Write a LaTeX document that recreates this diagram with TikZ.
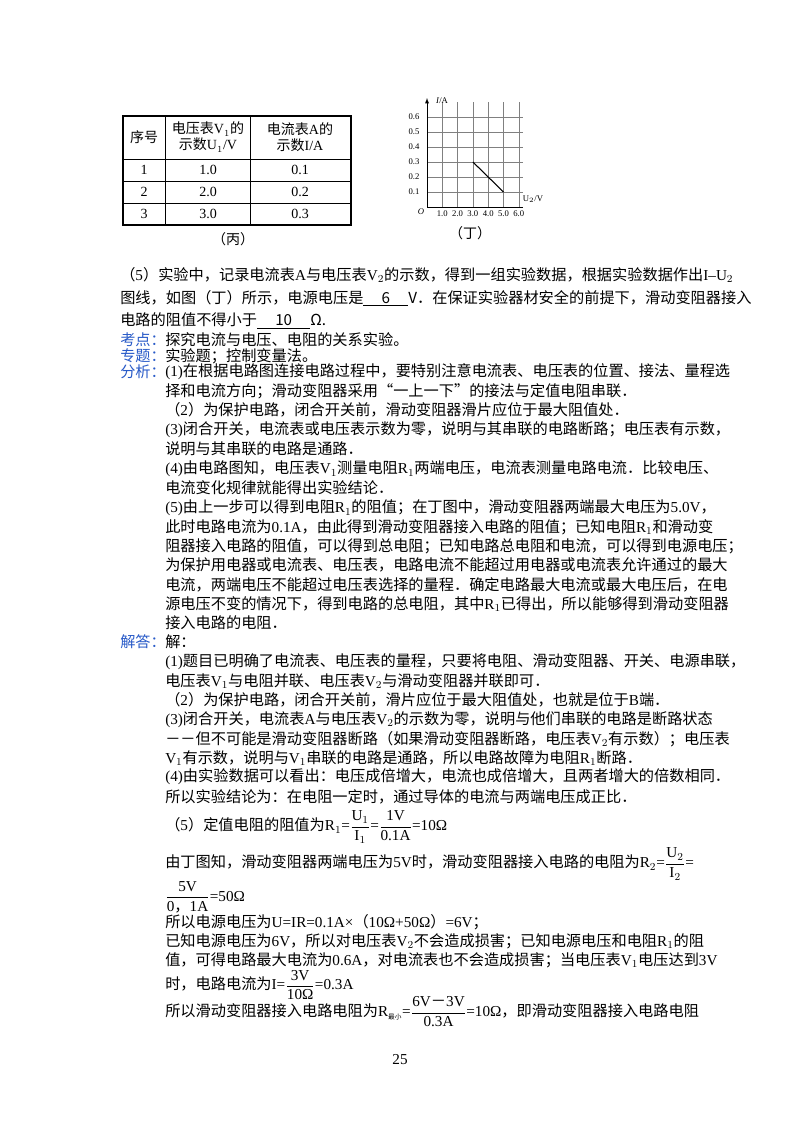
\documentclass[tikz,border=0pt]{standalone}
\usepackage{fontspec}
\setmainfont{Liberation Serif}
\newfontfamily\cjk{Noto Sans CJK SC}
\XeTeXinterchartokenstate=1
\newXeTeXintercharclass\cjkclass
\count255="4E00
\loop\XeTeXcharclass\count255=\cjkclass\advance\count255 1 \ifnum\count255<"A000 \repeat
\count255="3000
\loop\XeTeXcharclass\count255=\cjkclass\advance\count255 1 \ifnum\count255<"3040 \repeat
\count255="FF00
\loop\XeTeXcharclass\count255=\cjkclass\advance\count255 1 \ifnum\count255<"FFF0 \repeat
\XeTeXcharclass"201C=\cjkclass
\XeTeXcharclass"201D=\cjkclass
\XeTeXinterchartoks 0 \cjkclass={\cjk}
\XeTeXinterchartoks 4095 \cjkclass={\cjk}
\XeTeXinterchartoks \cjkclass 0={\rmfamily}
\definecolor{lab}{RGB}{40,90,200}
\newcommand{\fr}[2]{$\displaystyle\frac{\mbox{#1}}{\mbox{#2}}$}
\begin{document}
\begin{tikzpicture}[x=0.75pt,y=-0.75pt,
 ln/.style={anchor=west,inner sep=0pt,font=\fontsize{11.4}{13}\selectfont},
 lb/.style={ln,text=lab},
 sm/.style={inner sep=0pt,font=\fontsize{6.5}{7}\selectfont},
 tb/.style={inner sep=0pt,font=\fontsize{10.5}{12}\selectfont,align=center}]
\useasboundingbox[fill=white] (0,0) rectangle (800,1132);
% table
\draw[line width=0.9pt] (123,116) rectangle (351,225);
\foreach \y in {159,181,203} \draw (123,\y) -- (351,\y);
\draw (165,116) -- (165,225); \draw (250,116) -- (250,225);
\node[tb] (h1) at (144,137) {序号};
\node[tb] (h2) at (208,137) {电压表V$_1$的\\示数U$_1$/V};
\node[tb] (h3) at (300,137) {电流表A的\\示数I/A};
\foreach \r/\y/\a/\b in {1/170/1.0/0.1,2/192/2.0/0.2,3/214/3.0/0.3}{
 \node[tb] (r\r) at (144,\y) {\r}; \node[tb] (u\r) at (208,\y) {\a}; \node[tb] (i\r) at (300,\y) {\b};}
\node[tb] (cb) at (233,239) {（丙）};
% graph
\foreach \i in {1,...,6} \draw[gray] ({427+15.3*\i},102) -- ({427+15.3*\i},207);
\foreach \i in {1,...,6} \draw[gray] (427,{207-15*\i}) -- (523,{207-15*\i});
\draw[-latex] (427,207) -- (427,98);
\draw (427,207) -- (523,207);
\coordinate (pa) at ({427+15.3*3},162); \coordinate (pb) at ({427+15.3*5},192);
\draw[line width=0.8pt] (pa) -- (pb);
\node[sm] (ia) at (442,101) {\textit{I}/A};
\node[sm] (uv) at (533,199) {U$_2$/V};
\node[sm] (o) at (421,212) {\textit{O}};
\foreach \i in {1,...,6}{\node[sm] (ty\i) at (414,{207-15*\i}) {0.\i};
 \node[sm] (tx\i) at ({427+15.3*\i},214) {\i.0};}
\node[tb] (cd) at (470,233) {（丁）};
% text
\node[ln] (a1) at (120,275) {（5）实验中，记录电流表A与电压表V$_2$的示数，得到一组实验数据，根据实验数据作出I–U$_2$};
\node[ln] (a2) at (120,298) {图线，如图（丁）所示，电源电压是\underline{\hspace{1.2em}6\hspace{1.2em}}V．在保证实验器材安全的前提下，滑动变阻器接入};
\node[ln] (a3) at (120,321) {电路的阻值不得小于\underline{\hspace{1.2em}10\hspace{1.2em}}Ω.};
\node[lb] (k1) at (120,340) {考点：}; \node[ln] (k2) at (165,340) {探究电流与电压、电阻的关系实验。};
\node[lb] (z1) at (120,356) {专题：}; \node[ln] (z2) at (165,356) {实验题；控制变量法。};
\node[lb] (f0) at (120,372) {分析：};
\node[ln] (f1) at (165,372) {(1)在根据电路图连接电路过程中，要特别注意电流表、电压表的位置、接法、量程选};
\node[ln] (f2) at (165,391) {择和电流方向；滑动变阻器采用“一上一下”的接法与定值电阻串联．};
\node[ln] (f3) at (165,410) {（2）为保护电路，闭合开关前，滑动变阻器滑片应位于最大阻值处．};
\node[ln] (f4) at (165,430) {(3)闭合开关，电流表或电压表示数为零，说明与其串联的电路断路；电压表有示数，};
\node[ln] (f5) at (165,449) {说明与其串联的电路是通路．};
\node[ln] (f6) at (165,469) {(4)由电路图知，电压表V$_1$测量电阻R$_1$两端电压，电流表测量电路电流．比较电压、};
\node[ln] (f7) at (165,488) {电流变化规律就能得出实验结论．};
\node[ln] (f8) at (165,508) {(5)由上一步可以得到电阻R$_1$的阻值；在丁图中，滑动变阻器两端最大电压为5.0V，};
\node[ln] (f9) at (165,527) {此时电路电流为0.1A，由此得到滑动变阻器接入电路的阻值；已知电阻R$_1$和滑动变};
\node[ln] (f10) at (165,546) {阻器接入电路的阻值，可以得到总电阻；已知电路总电阻和电流，可以得到电源电压；};
\node[ln] (f11) at (165,565) {为保护用电器或电流表、电压表，电路电流不能超过用电器或电流表允许通过的最大};
\node[ln] (f12) at (165,585) {电流，两端电压不能超过电压表选择的量程．确定电路最大电流或最大电压后，在电};
\node[ln] (f13) at (165,604) {源电压不变的情况下，得到电路的总电阻，其中R$_1$已得出，所以能够得到滑动变阻器};
\node[ln] (f14) at (165,623) {接入电路的电阻．};
\node[lb] (j0) at (120,642) {解答：}; \node[ln] (j1) at (165,642) {解：};
\node[ln] (j2) at (165,662) {(1)题目已明确了电流表、电压表的量程，只要将电阻、滑动变阻器、开关、电源串联，};
\node[ln] (j3) at (165,681) {电压表V$_1$与电阻并联、电压表V$_2$与滑动变阻器并联即可．};
\node[ln] (j4) at (165,700) {（2）为保护电路，闭合开关前，滑片应位于最大阻值处，也就是位于B端．};
\node[ln] (j5) at (165,720) {(3)闭合开关，电流表A与电压表V$_2$的示数为零，说明与他们串联的电路是断路状态};
\node[ln] (j6) at (165,739) {－－但不可能是滑动变阻器断路（如果滑动变阻器断路，电压表V$_2$有示数）；电压表};
\node[ln] (j7) at (165,758) {V$_1$有示数，说明与V$_1$串联的电路是通路，所以电路故障为电阻R$_1$断路．};
\node[ln] (j8) at (165,777) {(4)由实验数据可以看出：电压成倍增大，电流也成倍增大，且两者增大的倍数相同．};
\node[ln] (j9) at (165,797) {所以实验结论为：在电阻一定时，通过导体的电流与两端电压成正比．};
\node[ln] (j10) at (165,827) {（5）定值电阻的阻值为R$_1$=\fr{U$_1$}{I$_1$}=\fr{1V}{0.1A}=10Ω};
\node[ln] (j11) at (165,864) {由丁图知，滑动变阻器两端电压为5V时，滑动变阻器接入电路的电阻为R$_2$=\fr{U$_2$}{I$_2$}=};
\node[ln] (j12) at (165,897) {\fr{5V}{0，1A}=50Ω};
\node[ln] (j13) at (165,922) {所以电源电压为U=IR=0.1A×（10Ω+50Ω）=6V；};
\node[ln] (j14) at (165,941) {已知电源电压为6V，所以对电压表V$_2$不会造成损害；已知电源电压和电阻R$_1$的阻};
\node[ln] (j15) at (165,960) {值，可得电路最大电流为0.6A，对电流表也不会造成损害；当电压表V$_1$电压达到3V};
\node[ln] (j16) at (165,985) {时，电路电流为I=\fr{3V}{10Ω}=0.3A};
\node[ln] (j17) at (165,1012) {所以滑动变阻器接入电路电阻为R$_{\mbox{\cjk\tiny 最小}}$=\fr{6V－3V}{0.3A}=10Ω，即滑动变阻器接入电路电阻};
\node[ln,anchor=center] (pg) at (400,1060) {25};
\end{tikzpicture}
\end{document}
